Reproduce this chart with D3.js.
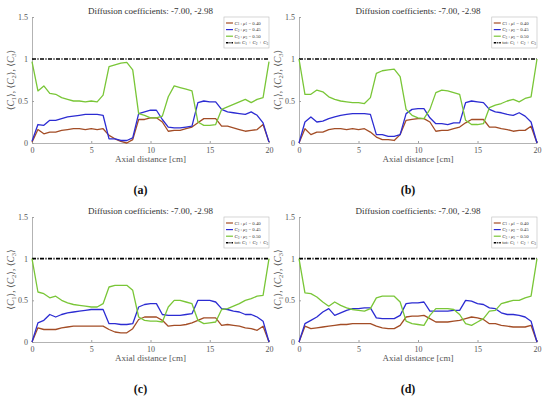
<!DOCTYPE html>
<html>
<head>
<meta charset="utf-8">
<script src="https://cdn.jsdelivr.net/npm/d3@7"></script>
<style>
  html, body { margin: 0; padding: 0; background: #fff; }
  svg { display: block; }
  svg text { font-family: "Liberation Serif", "DejaVu Serif", serif; }
</style>
</head>
<body>
<div id="chart"></div>
<script>
// axial positions [cm]
const xPos = [0,0.5,1,1.5,2,2.5,3,3.5,4,4.5,5,5.5,6,6.5,7,7.5,8,8.5,9,9.5,10,
  10.5,11,11.5,12,12.5,13,13.5,14,14.5,15,15.5,16,16.5,17,17.5,18,18.5,19,19.5,20];

// panel (a)
const c1A = [0.01,0.16,0.11,0.13,0.13,0.15,0.16,0.17,0.17,0.16,0.17,0.16,0.17,0.09,0.05,0.02,0.00,0.04,0.28,0.28,0.30,0.30,0.25,0.14,0.15,0.15,0.17,0.19,0.24,0.29,0.29,0.29,0.20,0.20,0.18,0.16,0.14,0.15,0.16,0.22,0.01];
const c2A = [0.02,0.22,0.21,0.27,0.27,0.29,0.31,0.32,0.33,0.34,0.34,0.34,0.33,0.05,0.05,0.03,0.03,0.06,0.35,0.37,0.39,0.39,0.28,0.19,0.18,0.18,0.19,0.20,0.48,0.50,0.49,0.49,0.40,0.37,0.36,0.35,0.34,0.37,0.33,0.24,0.01];
const c3A = [0.97,0.62,0.68,0.59,0.58,0.54,0.52,0.50,0.50,0.49,0.50,0.49,0.57,0.91,0.93,0.95,0.96,0.87,0.35,0.33,0.30,0.30,0.32,0.55,0.68,0.66,0.64,0.62,0.25,0.21,0.21,0.22,0.40,0.43,0.46,0.49,0.52,0.48,0.52,0.54,0.97];
// panel (b)
const c1B = [0.00,0.17,0.10,0.13,0.13,0.16,0.17,0.17,0.16,0.17,0.16,0.17,0.13,0.07,0.04,0.04,0.03,0.10,0.27,0.28,0.29,0.29,0.25,0.14,0.15,0.15,0.17,0.19,0.24,0.28,0.28,0.28,0.19,0.19,0.17,0.16,0.14,0.15,0.15,0.20,0.00];
const c2B = [0.00,0.25,0.31,0.25,0.26,0.29,0.31,0.33,0.34,0.35,0.35,0.35,0.34,0.10,0.10,0.08,0.08,0.10,0.35,0.40,0.41,0.41,0.30,0.23,0.23,0.22,0.24,0.24,0.48,0.50,0.49,0.48,0.40,0.37,0.36,0.34,0.33,0.36,0.32,0.25,0.00];
const c3B = [1.00,0.58,0.58,0.63,0.61,0.55,0.52,0.50,0.49,0.48,0.48,0.47,0.54,0.83,0.86,0.87,0.88,0.79,0.40,0.33,0.30,0.29,0.40,0.60,0.63,0.62,0.60,0.58,0.27,0.22,0.22,0.23,0.42,0.45,0.47,0.50,0.52,0.49,0.53,0.55,1.00];
// panel (c)
const c1C = [0.00,0.17,0.15,0.15,0.15,0.17,0.18,0.19,0.19,0.19,0.19,0.19,0.19,0.15,0.12,0.11,0.11,0.16,0.27,0.30,0.30,0.30,0.26,0.19,0.20,0.20,0.21,0.23,0.26,0.29,0.29,0.29,0.20,0.21,0.20,0.19,0.17,0.16,0.14,0.19,0.00];
const c2C = [0.00,0.23,0.26,0.33,0.30,0.33,0.35,0.36,0.37,0.38,0.39,0.39,0.39,0.22,0.22,0.21,0.21,0.22,0.42,0.45,0.46,0.46,0.33,0.32,0.32,0.32,0.33,0.34,0.50,0.50,0.50,0.48,0.40,0.39,0.37,0.36,0.33,0.33,0.30,0.25,0.00];
const c3C = [1.00,0.60,0.58,0.53,0.55,0.50,0.47,0.45,0.44,0.43,0.42,0.42,0.46,0.66,0.68,0.68,0.68,0.62,0.30,0.26,0.25,0.25,0.24,0.42,0.50,0.50,0.48,0.46,0.26,0.22,0.23,0.24,0.39,0.40,0.43,0.46,0.50,0.52,0.55,0.56,1.00];
// panel (d)
const c1D = [0.00,0.19,0.16,0.17,0.18,0.19,0.20,0.21,0.21,0.22,0.22,0.22,0.22,0.19,0.17,0.16,0.16,0.20,0.30,0.31,0.31,0.32,0.28,0.24,0.24,0.24,0.25,0.26,0.28,0.30,0.29,0.27,0.22,0.22,0.20,0.19,0.18,0.18,0.18,0.20,0.00];
const c2D = [0.00,0.22,0.26,0.30,0.36,0.40,0.32,0.35,0.38,0.40,0.40,0.41,0.41,0.29,0.28,0.28,0.28,0.32,0.46,0.47,0.47,0.48,0.37,0.37,0.37,0.37,0.38,0.38,0.50,0.49,0.46,0.45,0.41,0.40,0.35,0.33,0.33,0.32,0.30,0.25,0.00];
const c3D = [1.00,0.59,0.58,0.54,0.48,0.43,0.48,0.44,0.41,0.39,0.38,0.37,0.40,0.53,0.55,0.55,0.55,0.48,0.25,0.22,0.21,0.20,0.32,0.40,0.40,0.40,0.39,0.33,0.22,0.20,0.24,0.28,0.37,0.38,0.46,0.48,0.50,0.50,0.53,0.55,1.00];

// total C1+C2+C3
const totX = [0, 20];
const totY = [1, 1];

const xTicks = [0, 5, 10, 15, 20];
const yTicks = [0, 0.5, 1, 1.5];
const titleText = "Diffusion coefficients: -7.00, -2.98";
const panelLabels = ["(a)", "(b)", "(c)", "(d)"];
const muValues = ["0.40", "0.45", "0.50"];

const colors = ["#a34d26", "#2c2cd2", "#79c637"];
const FONT = "Liberation Serif";

const panels = [
  { label: panelLabels[0], series: [c1A, c2A, c3A], x0: 32,  x1: 269, y0: 143, y1: 17 },
  { label: panelLabels[1], series: [c1B, c2B, c3B], x0: 299, x1: 537, y0: 143, y1: 17 },
  { label: panelLabels[2], series: [c1C, c2C, c3C], x0: 32,  x1: 269, y0: 342, y1: 217 },
  { label: panelLabels[3], series: [c1D, c2D, c3D], x0: 299, x1: 537, y0: 342, y1: 217 }
];

const W = 550, H = 398;
const svg = d3.select("#chart").append("svg")
  .attr("width", W).attr("height", H)
  .attr("viewBox", [0, 0, W, H])
  .attr("font-family", FONT);

panels.forEach(p => {
  const x = d3.scaleLinear().domain([0, 20]).range([p.x0, p.x1]);
  const y = d3.scaleLinear().domain([0, 1.5]).range([p.y0, p.y1]);
  const g = svg.append("g");

  // axes
  g.append("g")
    .attr("transform", `translate(0,${p.y0})`)
    .call(d3.axisBottom(x).tickValues(xTicks).tickSize(-2).tickPadding(4).tickSizeOuter(0))
    .attr("font-family", FONT)
    .call(a => a.select(".domain").attr("stroke", "#a0a0a0").attr("stroke-width", 0.8))
    .call(a => a.selectAll(".tick line").attr("stroke", "#a0a0a0"))
    .call(a => a.selectAll("text").attr("font-size", 8).attr("fill", "#555"));

  g.append("g")
    .attr("transform", `translate(${p.x0},0)`)
    .call(d3.axisLeft(y).tickValues(yTicks).tickFormat(d3.format("~g")).tickSize(-2).tickPadding(4).tickSizeOuter(0))
    .attr("font-family", FONT)
    .call(a => a.select(".domain").attr("stroke", "#a0a0a0").attr("stroke-width", 0.8))
    .call(a => a.selectAll(".tick line").attr("stroke", "#a0a0a0"))
    .call(a => a.selectAll("text").attr("font-size", 8).attr("fill", "#555"));

  // total line
  const totLine = d3.line().x((d, i) => x(totX[i])).y(d => y(d));
  g.append("path")
    .attr("d", totLine(totY))
    .attr("fill", "none").attr("stroke", "#000")
    .attr("stroke-width", 1.6)
    .attr("stroke-dasharray", "4,1.4,1.2,1.4");

  // concentration series
  const line = d3.line().x((d, i) => x(xPos[i])).y(d => y(d));
  p.series.forEach((s, k) => {
    g.append("path")
      .attr("d", line(s))
      .attr("fill", "none")
      .attr("stroke", colors[k])
      .attr("stroke-width", 1.3)
      .attr("stroke-linejoin", "round");
  });

  // title
  const cx = (p.x0 + p.x1) / 2;
  g.append("text")
    .attr("x", cx).attr("y", p.y1 - 3)
    .attr("text-anchor", "middle")
    .attr("font-size", 9).attr("fill", "#333")
    .text(titleText);

  // x label
  g.append("text")
    .attr("x", cx).attr("y", p.y0 + 19)
    .attr("text-anchor", "middle")
    .attr("font-size", 9).attr("fill", "#555")
    .text("Axial distance [cm]");

  // y label
  const yl = g.append("text")
    .attr("transform", `translate(${p.x0 - 18},${(p.y0 + p.y1) / 2}) rotate(-90)`)
    .attr("text-anchor", "middle")
    .attr("font-size", 9.5).attr("fill", "#555");
  [1, 2, 3].forEach((n, i) => {
    yl.append("tspan").text((i ? ",  " : "") + "\u27E8");
    yl.append("tspan").attr("font-style", "italic").text("C");
    yl.append("tspan").attr("font-size", 6.5).attr("dy", 2).text(n);
    yl.append("tspan").attr("dy", -2).text("\u27E9");
  });

  // legend
  const lx = x(16.2), ly = y(1.5);
  const lw = p.x1 - lx, lh = 31;
  const leg = g.append("g").attr("transform", `translate(${lx},${ly})`);
  leg.append("rect")
    .attr("width", lw).attr("height", lh)
    .attr("fill", "#fff").attr("stroke", "#bbb").attr("stroke-width", 0.6);
  const rows = [0, 1, 2, 3];
  rows.forEach(r => {
    const ry = 6 + r * 6.6;
    leg.append("line")
      .attr("x1", 2).attr("x2", 9).attr("y1", ry).attr("y2", ry)
      .attr("stroke", r < 3 ? colors[r] : "#000")
      .attr("stroke-width", r < 3 ? 1.2 : 1.4)
      .attr("stroke-dasharray", r < 3 ? null : "2.5,1,1,1");
    const t = leg.append("text")
      .attr("x", 10.5).attr("y", ry + 1.6)
      .attr("font-size", 4.8).attr("fill", "#333");
    if (r < 3) {
      t.append("tspan").attr("font-style", "italic").text("C");
      t.append("tspan").attr("font-size", 3.4).attr("dy", 0.8).text(r + 1);
      t.append("tspan").attr("dy", -0.8).text(" : ");
      t.append("tspan").attr("font-style", "italic").text("\u03BC");
      t.append("tspan").attr("font-size", 3.4).attr("dy", 0.8).text(r + 1);
      t.append("tspan").attr("dy", -0.8).text(" = " + muValues[r]);
    } else {
      t.append("tspan").text("tot: ");
      [1, 2, 3].forEach((n, i) => {
        t.append("tspan").attr("font-style", "italic").attr("dy", i ? -0.8 : 0).text((i ? " + " : "") + "C");
        t.append("tspan").attr("font-size", 3.4).attr("dy", 0.8).text(n);
      });
    }
  });

  // panel label
  g.append("text")
    .attr("x", cx - 10).attr("y", p.y0 + 51)
    .attr("text-anchor", "middle")
    .attr("font-size", 12).attr("font-weight", "bold").attr("fill", "#111")
    .text(p.label);
});
</script>
</body>
</html>
